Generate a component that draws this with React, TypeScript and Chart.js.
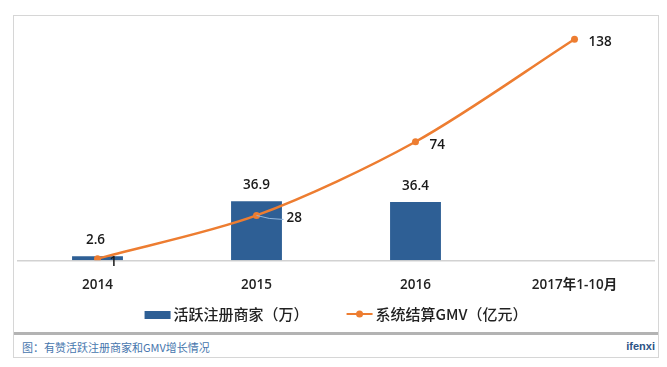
import React, { useEffect, useRef } from "react";
import { Chart, registerables } from "chart.js";

Chart.register(...registerables);

const categories = ["2014", "2015", "2016", "2017年1-10月"];
const merchants: (number | null)[] = [2.6, 36.9, 36.4, null];
const gmv = [1, 28, 74, 138];
const merchantLabel = "活跃注册商家（万）";
const gmvLabel = "系统结算GMV（亿元）";
const caption = "图：有赞活跃注册商家和GMV增长情况";
const brand = "ifenxi";

const BAR_COLOR = "#2E5F95";
const LINE_COLOR = "#ED7D31";
const FONT = '"Open Sans", "Noto Sans CJK SC", sans-serif';
const CJK_FONT = '"Noto Sans CJK SC", "Open Sans", sans-serif';

const valueLabels = {
  id: "valueLabels",
  afterDatasetsDraw(chart: any) {
    const ctx = chart.ctx;
    ctx.save();
    ctx.font = `600 13.5px ${FONT}`;
    ctx.fillStyle = "#1a1a1a";
    const barMeta = chart.getDatasetMeta(0);
    ctx.textAlign = "center";
    ctx.textBaseline = "middle";
    barMeta.data.forEach((el: any, i: number) => {
      const v = merchants[i];
      if (v == null) return;
      ctx.fillText(String(v), el.x - (i === 0 ? 2 : 0), el.y - 16);
    });
    const lineMeta = chart.getDatasetMeta(1);
    ctx.textAlign = "left";
    lineMeta.data.forEach((el: any, i: number) => {
      const v = gmv[i];
      const dx = i === 1 ? 30 : i === 0 ? 12 : 14;
      if (i === 1) {
        ctx.strokeStyle = "#8fb6de";
        ctx.lineWidth = 1;
        ctx.beginPath();
        ctx.moveTo(el.x, el.y);
        ctx.quadraticCurveTo(el.x + 12, el.y + 4, el.x + dx - 3, el.y + 4);
        ctx.stroke();
      }
      ctx.fillStyle = "#1a1a1a";
      ctx.fillText(String(v), el.x + dx, el.y + 3);
    });
    ctx.restore();
  },
};

const bottomLegend = {
  id: "bottomLegend",
  afterDraw(chart: any) {
    const ctx = chart.ctx;
    const ds = chart.data.datasets;
    ctx.save();
    ctx.font = `500 15px ${CJK_FONT}`;
    ctx.textBaseline = "middle";
    ctx.textAlign = "left";
    const y = chart.height - 18;
    const iconW = [26, 26];
    const gap = 3;
    const spacing = 38;
    const widths = ds.map((d: any, i: number) => iconW[i] + gap + ctx.measureText(d.label).width);
    const total = widths[0] + spacing + widths[1];
    let x = chart.width / 2 - total / 2;
    ds.forEach((d: any, i: number) => {
      if (d.type === "bar") {
        ctx.fillStyle = d.backgroundColor;
        ctx.fillRect(x, y - 3, iconW[i], 8);
      } else {
        ctx.strokeStyle = d.borderColor;
        ctx.lineWidth = 2;
        ctx.beginPath();
        ctx.moveTo(x, y);
        ctx.lineTo(x + iconW[i], y);
        ctx.stroke();
        ctx.fillStyle = d.borderColor;
        ctx.beginPath();
        ctx.arc(x + iconW[i] / 2, y, 3.5, 0, Math.PI * 2);
        ctx.fill();
      }
      ctx.fillStyle = "#222";
      ctx.fillText(d.label, x + iconW[i] + gap, y);
      x += widths[i] + spacing;
    });
    ctx.restore();
  },
};

export default function App() {
  const ref = useRef<HTMLCanvasElement>(null);

  useEffect(() => {
    if (!ref.current) return;
    const chart = new Chart(ref.current, {
      type: "bar",
      data: {
        labels: categories,
        datasets: [
          {
            type: "bar",
            label: merchantLabel,
            data: merchants,
            backgroundColor: BAR_COLOR,
            barPercentage: 0.32,
            categoryPercentage: 1,
            order: 2,
          },
          {
            type: "line",
            label: gmvLabel,
            data: gmv,
            borderColor: LINE_COLOR,
            backgroundColor: LINE_COLOR,
            borderWidth: 2.5,
            pointRadius: 3.5,
            pointBackgroundColor: LINE_COLOR,
            pointBorderWidth: 0,
            tension: 0.3,
            order: 1,
          },
        ],
      } as any,
      options: {
        animation: false,
        responsive: false,
        maintainAspectRatio: false,
        layout: { padding: { top: 4, left: 0, right: 0, bottom: 29.5 } },
        scales: {
          x: {
            grid: { display: false },
            border: { display: true, color: "#d2d2d2", width: 1.5 },
            ticks: {
              color: "#222",
              font: { size: 13.5, family: FONT, weight: 600 },
              padding: 9,
            },
          },
          y: {
            display: false,
            min: 0,
            max: 150,
          },
        },
        plugins: {
          tooltip: { enabled: false },
          legend: { display: false },
        },
      },
      plugins: [valueLabels, bottomLegend],
    });
    return () => chart.destroy();
  }, []);

  return (
    <div
      style={{
        position: "fixed",
        left: 0,
        top: 0,
        width: 667,
        height: 367,
        background: "#fff",
        overflow: "hidden",
      }}
    >
      <div
        style={{
          position: "absolute",
          left: 13,
          top: 15,
          width: 646,
          height: 343,
          border: "1px solid #d6d6d6",
          boxSizing: "border-box",
        }}
      />
      <canvas
        ref={ref}
        width={644}
        height={316}
        style={{ position: "absolute", left: 14, top: 16, width: 644, height: 316 }}
      />
      <div
        style={{
          position: "absolute",
          left: 14,
          top: 332,
          width: 644,
          height: 3,
          background: "#b3b3b3",
        }}
      />
      <div
        style={{
          position: "absolute",
          left: 22,
          top: 339,
          fontSize: 11,
          lineHeight: "16px",
          color: "#4676ad",
          fontFamily: '"Noto Sans CJK SC", sans-serif',
        }}
      >
        {caption}
      </div>
      <div
        style={{
          position: "absolute",
          right: 12,
          top: 338,
          fontSize: 11,
          lineHeight: "16px",
          fontWeight: "bold",
          color: "#2d5385",
          fontFamily: '"Liberation Sans Narrow", "Liberation Sans", sans-serif',
        }}
      >
        {brand}
      </div>
    </div>
  );
}
